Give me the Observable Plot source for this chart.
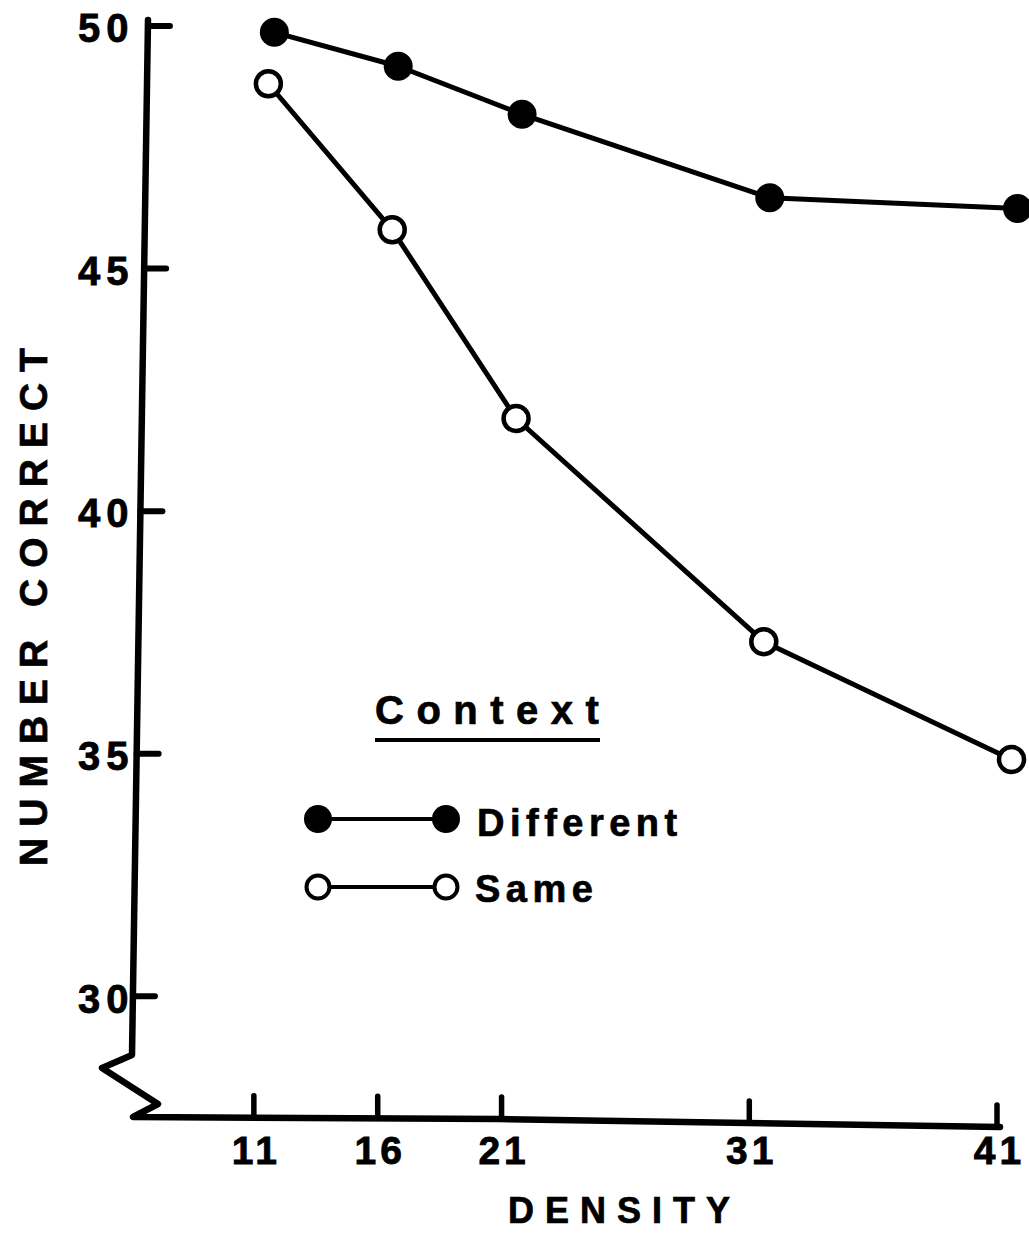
<!DOCTYPE html>
<html>
<head>
<meta charset="utf-8">
<script src="https://cdn.jsdelivr.net/npm/d3@7"></script>
<script src="https://cdn.jsdelivr.net/npm/@observablehq/plot@0.6"></script>
<style>
  html, body { margin: 0; padding: 0; background: #fff; }
  svg { display: block; }
  g[aria-label="y-axis tick label"] text { letter-spacing: 6px; stroke: #000; stroke-width: 0.8px; }
  g[aria-label="x-axis tick label"] text { letter-spacing: 4px; stroke: #000; stroke-width: 0.8px; }
  svg text.heavy { stroke: #000; stroke-width: 0.7px; }
</style>
</head>
<body>
<div id="chart"></div>
<script>
// ---- data ----
const density = [11, 16, 21, 31, 41];
const different = [49.88, 49.18, 48.19, 46.47, 46.25];
const same = [48.82, 45.81, 41.92, 37.32, 34.89];
const yTicks = [30, 35, 40, 45, 50];
const xTicks = [11, 16, 21, 31, 41];
const seriesNames = ["Different", "Same"];
const legendTitle = "Context";
const xTitle = "DENSITY";
const yTitle = "NUMBER CORRECT";

const diffData = density.map((d, i) => ({density: d, value: different[i]}));
const sameData = density.map((d, i) => ({density: d, value: same[i]}));

const FONT = "'Liberation Sans', Arial, Helvetica, sans-serif";

const chart = Plot.plot({
  width: 1029,
  height: 1234,
  marginLeft: 130,
  marginRight: 32,
  marginTop: 26,
  marginBottom: 114,
  style: {fontFamily: FONT, background: "#fff", color: "#000", overflow: "visible"},
  x: {domain: [6, 41], ticks: xTicks},
  y: {domain: [27.45, 50], ticks: yTicks},
  marks: [
    Plot.axisY(yTicks, {anchor: "left", tickSize: 0, tickPadding: 0, dx: 4, dy: 3,
      fontSize: 40, fontWeight: "bold", label: null, fill: "#000"}),
    Plot.axisX(xTicks, {anchor: "bottom", tickSize: 0, tickPadding: 16, dx: 2,
      fontSize: 39, fontWeight: "bold", label: null, fill: "#000"}),
    Plot.line(sameData, {x: "density", y: "value", stroke: "#000", strokeWidth: 5, dx: 14}),
    Plot.line(diffData, {x: "density", y: "value", stroke: "#000", strokeWidth: 5, dx: 20}),
    Plot.dot(diffData, {x: "density", y: "value", r: 14.5, fill: "#000", stroke: "none", dx: 20}),
    Plot.dot(sameData, {x: "density", y: "value", r: 12.5, fill: "#fff", stroke: "#000", strokeWidth: 4.5, dx: 14})
  ]
});
document.getElementById("chart").appendChild(chart);

// ---- hand-drawn style axis frame with break ----
const svg = d3.select(chart);
const sx = chart.scale("x"), sy = chart.scale("y");
const X = v => sx.apply(v), Y = v => sy.apply(v);

const topY = Y(50) - 6;
const yAxTop = [148, topY], yAxBot = [132, 1055];
const axisXAt = py => yAxTop[0] + (yAxBot[0] - yAxTop[0]) * (py - yAxTop[1]) / (yAxBot[1] - yAxTop[1]);
const xAxPts = [[133, 1117], [500, 1119], [X(41) + 3, 1127]];
const axisYAt = px => {
  for (let i = 0; i < xAxPts.length - 1; i++) {
    const [x0, y0] = xAxPts[i], [x1, y1] = xAxPts[i + 1];
    if (px <= x1 || i === xAxPts.length - 2) return y0 + (y1 - y0) * (px - x0) / (x1 - x0);
  }
};

const frame = svg.append("g").attr("fill", "none").attr("stroke", "#000")
  .attr("stroke-linejoin", "round").attr("stroke-linecap", "round");
frame.append("path").attr("stroke-width", 6.5)
  .attr("d", d3.line()([yAxTop, yAxBot, [102, 1068], [158, 1104], ...xAxPts]));

yTicks.forEach(v => {
  const py = Y(v), ax = axisXAt(py);
  frame.append("line").attr("stroke-width", 6)
    .attr("x1", ax).attr("x2", ax + 22).attr("y1", py).attr("y2", py);
});
xTicks.forEach(v => {
  const px = X(v), ay = axisYAt(px);
  frame.append("line").attr("stroke-width", 5.5)
    .attr("x1", px).attr("x2", px).attr("y1", ay).attr("y2", ay - 22);
});

// ---- axis titles ----
svg.append("text").text(xTitle).attr("class", "heavy")
  .attr("x", 619 + 5.5).attr("y", 1223)
  .attr("text-anchor", "middle").attr("font-family", FONT)
  .attr("font-size", 36).attr("font-weight", "bold").style("letter-spacing", "11px");

svg.append("text").text(yTitle).attr("class", "heavy")
  .attr("transform", `translate(47, ${607 - 5.5}) rotate(-90)`)
  .attr("text-anchor", "middle").attr("font-family", FONT)
  .attr("font-size", 39).attr("font-weight", "bold").style("letter-spacing", "11px");

// ---- legend ----
const lg = svg.append("g").attr("font-family", FONT).attr("font-weight", "bold")
  .attr("text-anchor", "start");
lg.append("text").text(legendTitle).attr("class", "heavy").attr("x", 375).attr("y", 724)
  .attr("text-anchor", "start")
  .attr("font-size", 40).style("letter-spacing", "12.5px");
lg.append("line").attr("x1", 375).attr("x2", 600).attr("y1", 740).attr("y2", 740)
  .attr("stroke", "#000").attr("stroke-width", 4);

const rows = [
  {name: seriesNames[0], y: 819, filled: true, tx: 477, ty: 836},
  {name: seriesNames[1], y: 887, filled: false, tx: 475, ty: 902}
];
rows.forEach(r => {
  lg.append("line").attr("x1", 318).attr("x2", 446).attr("y1", r.y).attr("y2", r.y)
    .attr("stroke", "#000").attr("stroke-width", 4);
  [318, 446].forEach(cx => {
    lg.append("circle").attr("cx", cx).attr("cy", r.y)
      .attr("r", r.filled ? 14 : 11.5)
      .attr("fill", r.filled ? "#000" : "#fff")
      .attr("stroke", r.filled ? "none" : "#000").attr("stroke-width", 4);
  });
  lg.append("text").text(r.name).attr("class", "heavy").attr("x", r.tx).attr("y", r.ty)
    .attr("text-anchor", "start")
    .attr("font-size", 38).style("letter-spacing", "5.5px");
});
</script>
</body>
</html>
